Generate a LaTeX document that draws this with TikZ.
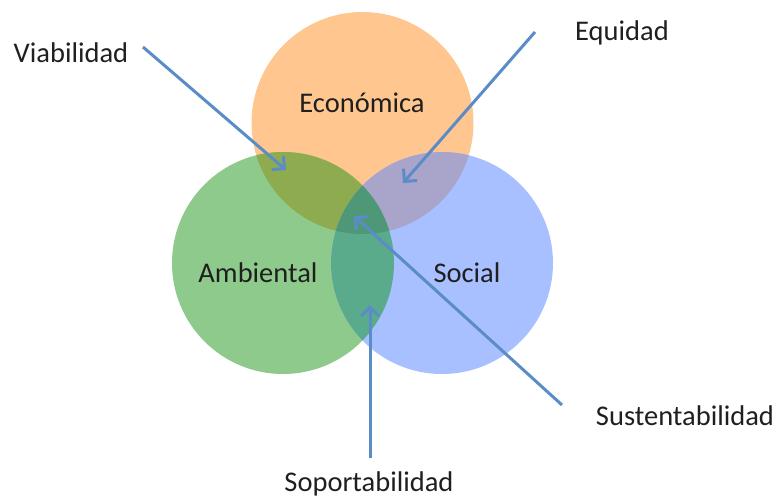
\documentclass[tikz,border=0pt]{standalone}
\usepackage{fontspec}
\setmainfont{Carlito}
\usetikzlibrary{arrows.meta}
\definecolor{corange}{HTML}{FFC690}
\definecolor{cgreen}{HTML}{8FCA8D}
\definecolor{cblue}{HTML}{A8C0FF}
\definecolor{cog}{HTML}{8FAB4F}
\definecolor{cob}{HTML}{A9A4C9}
\definecolor{cgb}{HTML}{5AAA8C}
\definecolor{call}{HTML}{4F9877}
\definecolor{carrow}{HTML}{5A8CC8}
\tikzset{
  lbl/.style={font=\fontsize{28.5}{31}\selectfont, text=black!88, inner sep=0pt},
  ptr/.style={draw=carrow, line width=3pt, -{Straight Barb[length=9pt,width=18pt]}},
}
\begin{document}
\begin{tikzpicture}[x=1pt,y=-1pt]
\useasboundingbox (0,0) rectangle (781,499);
\def\R{111}
\coordinate (co) at (362.5,123);
\coordinate (ca) at (283,263);
\coordinate (cs) at (442,263);
\fill[corange] (co) circle (\R);
\fill[cgreen] (ca) circle (\R);
\fill[cblue] (cs) circle (\R);
\begin{scope}
  \clip (co) circle (\R);
  \fill[cog] (ca) circle (\R);
  \fill[cob] (cs) circle (\R);
\end{scope}
\begin{scope}
  \clip (ca) circle (\R);
  \fill[cgb] (cs) circle (\R);
  \clip (cs) circle (\R);
  \fill[call] (co) circle (\R);
\end{scope}
\node[lbl] (eco) at (362,103) {Económica};
\node[lbl] (amb) at (258,273) {Ambiental};
\node[lbl] (soc) at (467,273) {Social};
\node[lbl] (via) at (71,53) {Viabilidad};
\node[lbl] (equ) at (622,33) {Equidad};
\node[lbl] (sus) at (685,416) {Sustentabilidad};
\node[lbl] (sop) at (369,484) {Soportabilidad};
\coordinate (v0) at (143,47);
\coordinate (v1) at (286,170);
\coordinate (e0) at (535,32);
\coordinate (e1) at (403,183);
\coordinate (s0) at (562,405);
\coordinate (s1) at (354,216);
\coordinate (p0) at (370,458);
\coordinate (p1) at (370,305);
\draw[ptr] (v0) -- (v1);
\draw[ptr] (e0) -- (e1);
\draw[ptr] (s0) -- (s1);
\draw[ptr] (p0) -- (p1);
\end{tikzpicture}
\end{document}
